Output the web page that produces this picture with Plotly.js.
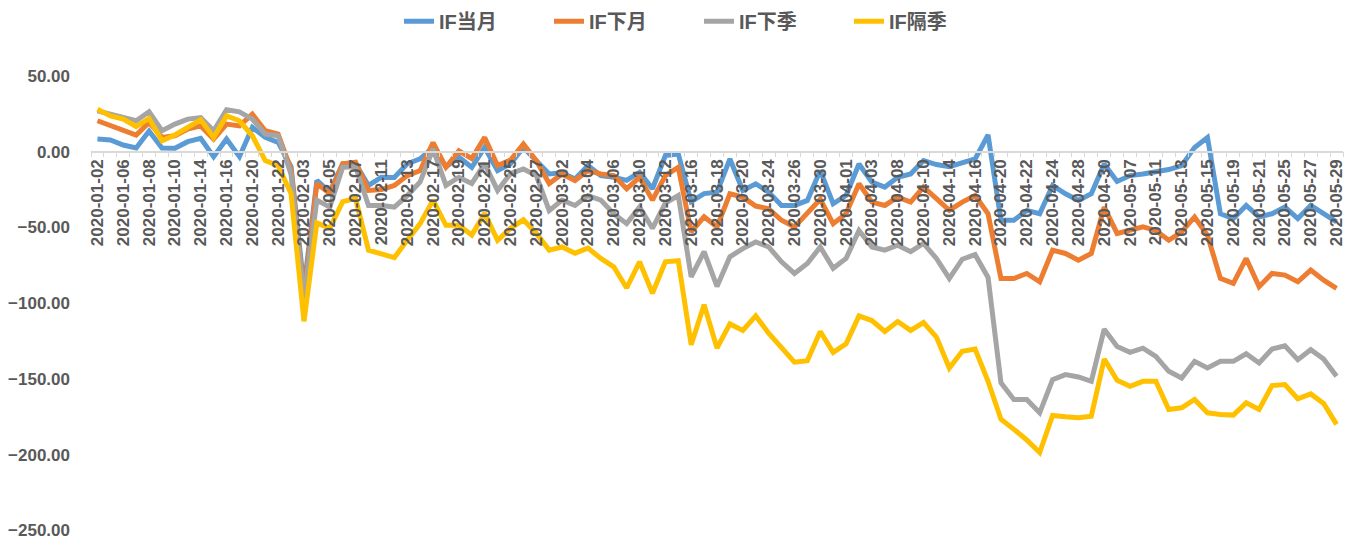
<!DOCTYPE html>
<html>
<head>
<meta charset="utf-8">
<script src="https://cdn.plot.ly/plotly-3.0.1.min.js"></script>
<style>html,body{margin:0;padding:0;background:#fff;}#chart{width:1346px;height:539px;}</style>
</head>
<body>
<div id="chart"></div>
<script>
const categories = [
 "2020-01-02","2020-01-03","2020-01-06","2020-01-07","2020-01-08","2020-01-09","2020-01-10","2020-01-13","2020-01-14","2020-01-15","2020-01-16","2020-01-17","2020-01-20","2020-01-21","2020-01-22","2020-01-23",
 "2020-02-03","2020-02-04","2020-02-05","2020-02-06","2020-02-07","2020-02-10","2020-02-11","2020-02-12","2020-02-13","2020-02-14","2020-02-17","2020-02-18","2020-02-19","2020-02-20","2020-02-21","2020-02-24","2020-02-25","2020-02-26","2020-02-27","2020-02-28",
 "2020-03-02","2020-03-03","2020-03-04","2020-03-05","2020-03-06","2020-03-09","2020-03-10","2020-03-11","2020-03-12","2020-03-13","2020-03-16","2020-03-17","2020-03-18","2020-03-19","2020-03-20","2020-03-23","2020-03-24","2020-03-25","2020-03-26","2020-03-27","2020-03-30","2020-03-31",
 "2020-04-01","2020-04-02","2020-04-03","2020-04-07","2020-04-08","2020-04-09","2020-04-10","2020-04-13","2020-04-14","2020-04-15","2020-04-16","2020-04-17","2020-04-20","2020-04-21","2020-04-22","2020-04-23","2020-04-24","2020-04-27","2020-04-28","2020-04-29","2020-04-30",
 "2020-05-06","2020-05-07","2020-05-08","2020-05-11","2020-05-12","2020-05-13","2020-05-14","2020-05-15","2020-05-18","2020-05-19","2020-05-20","2020-05-21","2020-05-22","2020-05-25","2020-05-26","2020-05-27","2020-05-28","2020-05-29"
];

const tickLabels = [
 "2020-01-02","2020-01-06","2020-01-08","2020-01-10","2020-01-14","2020-01-16","2020-01-20","2020-01-22",
 "2020-02-03","2020-02-05","2020-02-07","2020-02-11","2020-02-13","2020-02-17","2020-02-19","2020-02-21","2020-02-25","2020-02-27",
 "2020-03-02","2020-03-04","2020-03-06","2020-03-10","2020-03-12","2020-03-16","2020-03-18","2020-03-20","2020-03-24","2020-03-26","2020-03-30",
 "2020-04-01","2020-04-03","2020-04-08","2020-04-10","2020-04-14","2020-04-16","2020-04-20","2020-04-22","2020-04-24","2020-04-28","2020-04-30",
 "2020-05-07","2020-05-11","2020-05-13","2020-05-15","2020-05-19","2020-05-21","2020-05-25","2020-05-27","2020-05-29"
];

const seriesNames = ["IF当月","IF下月","IF下季","IF隔季"];

const ifCurrent = [
 8.3,7.7,4.4,2.4,13.6,2.4,2.2,6.6,8.8,-3.3,8.3,-3.3,16,9.4,6.1,-10,
 -90,-19,-26.7,-8,-8,-22.3,-16.9,-17,-8,-4.8,2.8,-10,-3.7,-10.3,2.8,-12.5,-8,2.8,-6,-14.7,
 -14,-18,-9.2,-15.8,-16.9,-19,-13.6,-24.5,-2.6,-1.5,-33,-27.7,-26.7,-4.8,-25.6,-21.2,-26.7,-35.5,-35.5,-32.2,-12.5,-34.4,
 -28.9,-8.1,-20.1,-23.4,-16.9,-14.7,-5.9,-8.5,-9.9,-7,-4.8,11,-45.3,-45.3,-38.8,-41,-22.3,-27.8,-32.2,-27.8,-8.1,
 -19.7,-15.8,-14.7,-13.1,-11.8,-9.2,2.8,9.4,-41,-44.2,-35.5,-43.1,-41,-36.6,-44.2,-35.5,-41,-46.4
];

const ifNext = [
 20.4,17,13.8,11,19.3,9.4,10.5,14.9,17,8.3,18.2,17,24.7,13.8,11.6,-12,
 -95,-21,-27.7,-8,-7,-25.6,-25,-22.3,-15.8,-12.5,6,-10.3,0.6,-4.6,9.4,-9.2,-5.5,5,-6,-21,
 -14.7,-19,-12.5,-14.7,-15.8,-24.5,-16.9,-32,-15.8,-10.3,-53,-43,-49.7,-27.8,-30,-35.9,-37.7,-45.3,-49.7,-41,-31.5,-47.5,
 -41,-21.2,-33.3,-35.5,-30,-33.3,-23.4,-31,-38.8,-33.3,-28.9,-41,-83.7,-83.7,-80.4,-85.9,-65,-67.2,-71.6,-67.2,-36.6,
 -54,-52,-49.7,-52,-58.5,-53,-43.1,-55.2,-83.7,-86.9,-70.5,-89.1,-80.4,-81.5,-85.9,-78.2,-84.8,-90.2
];

const ifNextQuarter = [
 26.9,24.7,23.2,20.4,26.3,13.8,18.2,21.5,22.5,13.8,27.6,26.3,21.5,11.6,10.5,-15,
 -97,-32,-36.6,-10.3,-10,-35.5,-35.5,-36.6,-29,-20,1.8,-22.3,-16.9,-21,-8,-25.6,-14.5,-11.4,-15.8,-38.9,
 -32,-35.5,-29,-32,-41,-47.5,-36.6,-50.6,-34,-29,-82.6,-66,-89,-69.4,-64,-59.6,-62.9,-72.7,-80.4,-73.8,-62.9,-77,
 -70.5,-52,-62.9,-65,-61.8,-66,-60.6,-70.5,-83.7,-71,-68,-83,-152.6,-163.6,-163.6,-172.4,-150.5,-147.2,-148.7,-151.6,-117.2,
 -128.6,-132.5,-129.7,-135.2,-145,-149.4,-138.4,-142.8,-138.4,-138.4,-133.4,-139.5,-130.3,-128.1,-137.3,-130.7,-136.9,-148.3
];

const ifFarQuarter = [
 28,23.6,21.5,16.6,21.9,7.2,11,16,21,9.4,23.6,20.4,10.5,-5.9,-9.2,-27.8,
 -112,-47,-50.6,-33,-31,-65,-67.7,-70,-58.5,-47.5,-32,-48.6,-48.6,-55,-40.7,-58.5,-50.6,-45,-54,-65,
 -62.9,-67,-63.7,-70.5,-76,-90,-72.7,-93.5,-72.7,-72,-127.5,-101,-129.6,-113.7,-118,-108.4,-119.8,-129.6,-139,-138,-118.7,-132.5,
 -126.8,-108.4,-111.5,-118.7,-112.1,-118,-112.8,-122.4,-142.8,-131.8,-130.3,-151.6,-176.7,-183.3,-190.3,-198.6,-174.1,-175,-175.6,-174.6,-136.9,
 -150.9,-154.9,-151.6,-151.6,-170.2,-169.1,-163.6,-172.4,-173.5,-173.9,-165.8,-170.2,-154.4,-153.7,-163.1,-159.9,-166.2,-180
];

const yTicks = [50, 0, -50, -100, -150, -200, -250];

const colors = ["#5B9BD5","#ED7D31","#A5A5A5","#FFC000"];
const allSeries = [ifCurrent, ifNext, ifNextQuarter, ifFarQuarter];

const traces = allSeries.map((vals, k) => ({
  x: categories,
  y: vals,
  type: "scatter",
  mode: "lines",
  name: seriesNames[k],
  line: {color: colors[k], width: 5, shape: "linear"},
  hoverinfo: "x+y+name"
}));

const ticktext = categories.map(c => tickLabels.includes(c) ? c : "");
const fontFam = "'Liberation Sans', Arial, 'Noto Sans CJK SC', sans-serif";

const layout = {
  width: 1346,
  height: 539,
  margin: {l: 91, r: 3, t: 74, b: 8, pad: 0},
  paper_bgcolor: "#ffffff",
  plot_bgcolor: "#ffffff",
  showlegend: true,
  legend: {
    orientation: "h",
    x: 0.246, xanchor: "left",
    y: 1.158, yanchor: "top",
    font: {family: fontFam, size: 20, color: "#595959", weight: "bold"},
    entrywidth: 105, entrywidthmode: "pixels",
    itemwidth: 30,
    traceorder: "normal"
  },
  xaxis: {
    type: "category",
    range: [-0.5, categories.length - 0.5],
    anchor: "free",
    position: 250.4 / 301,
    tickmode: "array",
    tickvals: categories,
    ticktext: ticktext,
    tickson: "boundaries",
    tickangle: -90,
    ticks: "outside",
    ticklen: 5,
    tickwidth: 1.3,
    tickcolor: "#d9d9d9",
    showline: true,
    linecolor: "#d9d9d9",
    linewidth: 1.5,
    showgrid: false,
    zeroline: false,
    automargin: false,
    ticklabeloverflow: "allow",
    tickfont: {family: fontFam, size: 17, color: "#595959", weight: "bold"}
  },
  yaxis: {
    range: [-250.4, 50.6],
    tickmode: "array",
    tickvals: yTicks,
    tickformat: ".2f",
    showgrid: false,
    zeroline: false,
    showline: false,
    ticks: "",
    ticklabelstandoff: 20,
    automargin: false,
    ticklabeloverflow: "allow",
    tickfont: {family: fontFam, size: 17, color: "#595959", weight: "bold"}
  }
};

Plotly.newPlot("chart", traces, layout, {displayModeBar: false});
</script>
</body>
</html>
